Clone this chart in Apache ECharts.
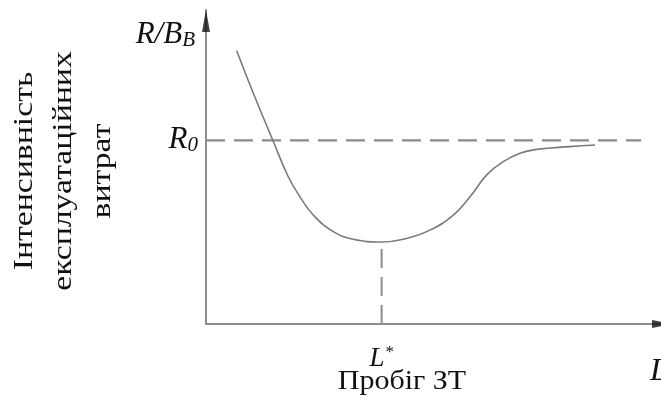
<!DOCTYPE html>
<html>
<head>
<meta charset="utf-8">
<script src="https://cdn.jsdelivr.net/npm/echarts@6/dist/echarts.min.js"></script>
<style>
  html, body { margin: 0; padding: 0; background: #fff; }
  #chart { width: 661px; height: 399px; }
</style>
</head>
<body>
<div id="chart"></div>
<script>
// Operating cost intensity vs. vehicle run (schematic curve)
const runValues = [6.66, 10.26, 14.47, 17.85, 20.39, 23.28, 27.61, 31.95, 38.1,
                   42.8, 48.59, 53.64, 57.27, 60.89, 64.49, 68.11, 71.74, 78.96, 84.38];
const costValues = [87.0, 73.5, 58.6, 46.9, 40.5, 34.7, 29.4, 27.0, 26.1,
                    27.0, 29.9, 34.7, 40.5, 47.5, 51.7, 54.4, 55.6, 56.5, 57.0];
const R0 = 58.5;          // reference cost level
const Lstar = 38.1;       // optimal run
const costAtLstar = 26.1; // minimum of the curve
const levelLineEnd = 94.4;
const xMax = 100;
const yMax = 100;

const yTitleLines = ['Інтенсивність', 'експлуатаційних', 'витрат'];
const xTitle = 'Пробіг ЗТ';

const SERIF = 'Liberation Serif';
const axisGray = '#8c8c8c';
const curveGray = '#7a7a7a';

const chart = echarts.init(document.getElementById('chart'), null, { renderer: 'canvas' });

const curve = runValues.map((x, i) => [x, costValues[i]]);

chart.setOption({
  animation: false,
  backgroundColor: '#ffffff',
  grid: {
    left: 206, top: 10, width: 461, height: 314,
    containLabel: false, outerBoundsMode: 'none'
  },
  xAxis: {
    type: 'value', min: 0, max: xMax,
    name: '{l|L}',
    nameLocation: 'end',
    nameGap: -17,
    nameTextStyle: {
      align: 'left', verticalAlign: 'top', padding: [32, 0, 0, 0],
      rich: { l: { fontFamily: SERIF, fontStyle: 'italic', fontSize: 32, color: '#111' } }
    },
    axisLine: { show: true, lineStyle: { color: axisGray, width: 2 } },
    axisTick: { show: false },
    splitLine: { show: false },
    axisLabel: {
      customValues: [Lstar],
      margin: 20,
      formatter: () => '{l|L}{s|*}',
      rich: {
        l: { fontFamily: SERIF, fontStyle: 'italic', fontSize: 27, color: '#111' },
        s: { fontFamily: SERIF, fontSize: 17, color: '#111', padding: [0, 0, 12, 1] }
      }
    }
  },
  yAxis: {
    type: 'value', min: 0, max: yMax,
    name: '{r|R/B}{s|B}',
    nameLocation: 'end',
    nameGap: -9,
    nameTextStyle: {
      align: 'right', verticalAlign: 'top', padding: [0, 11, 0, 0],
      rich: {
        r: { fontFamily: SERIF, fontStyle: 'italic', fontSize: 31, color: '#111' },
        s: { fontFamily: SERIF, fontStyle: 'italic', fontSize: 21, color: '#111', padding: [11, 0, 0, 0] }
      }
    },
    axisLine: { show: true, lineStyle: { color: axisGray, width: 2 } },
    axisTick: { show: false },
    splitLine: { show: false },
    axisLabel: {
      customValues: [R0],
      margin: 8,
      formatter: () => '{r|R}{s|0}',
      rich: {
        r: { fontFamily: SERIF, fontStyle: 'italic', fontSize: 31, color: '#111' },
        s: { fontFamily: SERIF, fontStyle: 'italic', fontSize: 21, color: '#111', padding: [11, 0, 0, 0] }
      }
    }
  },
  series: [
    {
      type: 'line', data: curve, smooth: 0.45, symbol: 'none',
      lineStyle: { color: curveGray, width: 1.6 }, z: 3
    },
    {
      type: 'line', data: [[0, R0], [levelLineEnd, R0]], symbol: 'none',
      lineStyle: { color: axisGray, width: 2.2, type: [19, 9] }, z: 2
    },
    {
      type: 'line', data: [[Lstar, 0], [Lstar, costAtLstar]], symbol: 'none',
      lineStyle: { color: axisGray, width: 2, type: [19, 9] }, z: 2
    },
    {
      // arrow heads at the ends of both axes
      type: 'scatter', silent: true, z: 5,
      data: [
        { value: [0, yMax], symbolRotate: 0, symbolOffset: [0, '50%'] },
        { value: [xMax, 0], symbolRotate: -90, symbolOffset: ['-50%', 0] }
      ],
      symbol: 'triangle', symbolSize: [8, 22],
      itemStyle: { color: '#111' }
    }
  ],
  graphic: [
    {
      type: 'text', x: 64, y: 171, rotation: Math.PI / 2, scaleX: 1.25,
      style: {
        text: yTitleLines.join('\n'),
        font: '27px ' + SERIF,
        fill: '#111', align: 'center', verticalAlign: 'middle', lineHeight: 39
      }
    },
    {
      type: 'text', x: 402, y: 382, scaleX: 1.11,
      style: {
        text: xTitle, font: '27px ' + SERIF, fill: '#111',
        align: 'center', verticalAlign: 'middle'
      }
    }
  ]
});
</script>
</body>
</html>
